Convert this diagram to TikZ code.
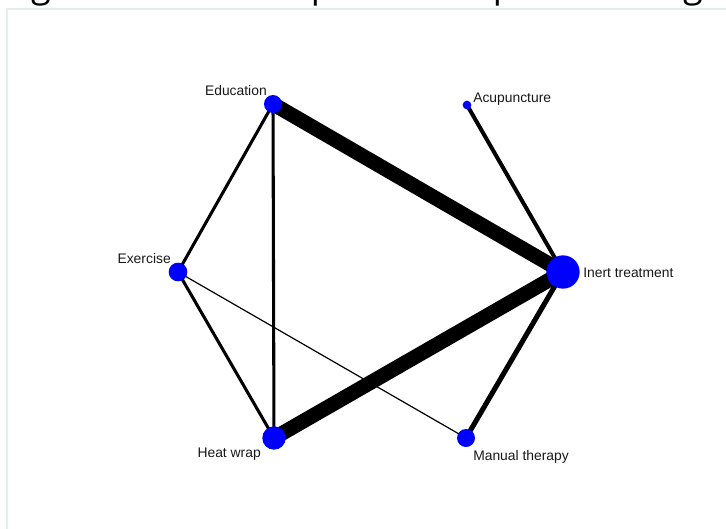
\documentclass[tikz,border=0pt]{standalone}
\usepackage{fontspec}
\setmainfont{Liberation Sans}
\newfontfamily\titlefont{Open Sans}
\definecolor{nodeblue}{HTML}{0000FF}
\definecolor{framecol}{HTML}{E4EEEE}
\begin{document}
\begin{tikzpicture}[x=0.75pt,y=-0.75pt,
  dot/.style={circle,fill=nodeblue,draw=none,inner sep=0pt},
  lbl/.style={inner sep=0pt,font=\fontsize{10.4}{12}\selectfont,text=black!90},
  edge/.style={draw=black,line cap=butt},
  ttl/.style={inner sep=0pt,font=\titlefont\fontsize{27}{30}\selectfont,anchor=base}]
\useasboundingbox (0,0) rectangle (726,529);
\fill[white] (0,0) rectangle (726,529);
% cut-off title (only descenders visible)
\begin{scope}
\clip (0,0) rectangle (726,9);
\node[ttl] (t1) at (41,-3) {g};
\node[ttl] (t2) at (322,-3) {p};
\node[ttl] (t3) at (504,-3) {p};
\node[ttl] (t4) at (693,-3) {g};
\end{scope}
% panel frame
\draw[framecol,line width=1.1pt] (7,540) -- (7,9) -- (740,9);
% node positions
\coordinate (edu) at (273,104);
\coordinate (acu) at (467,105);
\coordinate (exe) at (178,272);
\coordinate (ine) at (563,272);
\coordinate (hea) at (274,438);
\coordinate (man) at (466,438);
% edges
\draw[edge,line width=11pt] (edu) -- (ine);
\draw[edge,line width=11pt] (hea) -- (ine);
\draw[edge,line width=2.3pt] (edu) -- (exe);
\draw[edge,line width=2.3pt] (edu) -- (hea);
\draw[edge,line width=2.3pt] (exe) -- (hea);
\draw[edge,line width=0.9pt] (exe) -- (man);
\draw[edge,line width=3pt] (acu) -- (ine);
\draw[edge,line width=3.8pt] (man) -- (ine);
% nodes
\node[dot,minimum size=13.5pt] (eduN) at (edu) {};
\node[dot,minimum size=6.5pt] (acuN) at (acu) {};
\node[dot,minimum size=14pt] (exeN) at (exe) {};
\node[dot,minimum size=25pt] (ineN) at (ine) {};
\node[dot,minimum size=17.5pt] (heaN) at (hea) {};
\node[dot,minimum size=13.5pt] (manN) at (man) {};
% labels
\node[lbl,anchor=base east] (eduL) at (267,95) {Education};
\node[lbl,anchor=base west] (acuL) at (473,102) {Acupuncture};
\node[lbl,anchor=base east] (exeL) at (171,263) {Exercise};
\node[lbl,anchor=base west] (ineL) at (583,277) {Inert treatment};
\node[lbl,anchor=base east] (heaL) at (261,457) {Heat wrap};
\node[lbl,anchor=base west] (manL) at (473,460) {Manual therapy};
\end{tikzpicture}
\end{document}
